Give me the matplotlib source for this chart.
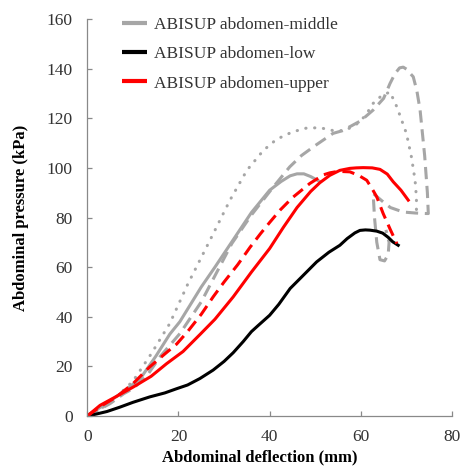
import matplotlib
matplotlib.use("Agg")
import matplotlib.pyplot as plt
from matplotlib.lines import Line2D

plt.rcParams["font.family"] = ["Liberation Serif", "DejaVu Serif"]

GRAY = "#a6a6a6"
RED = "#ff0000"
AXIS_GRAY = "#898989"

# ABISUP abdomen-middle, test 1 (solid)
mid1_x = [0, 2, 5, 8, 11.6, 15, 18.1, 20.3, 25, 28, 32, 36, 40, 42.5, 44.5, 46, 47.5, 49, 51]
mid1_y = [0, 2.5, 6, 10, 15, 24, 33, 38, 52, 60, 71, 82, 91, 94.5, 96.8, 97.6, 97.6, 96.5, 94.5]

# ABISUP abdomen-middle, test 2 (dashed)
mid2_x = [0, 3, 5, 8, 10, 13, 16, 20.3, 25, 31.7, 36, 40.8, 44.4, 47, 50, 53.9, 56,
          60, 62.7, 65, 66.4, 67.5, 68.5, 69.3, 70, 71.5, 72.3, 73, 74, 74.6, 74.8, 74.4,
          72, 69.3, 66.5, 64.9, 62.7, 63.0, 63.5, 64.2, 65.2, 66.0, 66.2, 65.5]
mid2_y = [0, 3, 5, 9, 11, 16, 24, 33.2, 46, 69.5, 81, 92.3, 100.4, 105, 109, 113.9, 115,
          119, 123.3, 128, 134, 138, 140.3, 140.6, 139.8, 136.7, 131, 123.3, 105, 90, 81.6,
          81.6, 81.8, 82.2, 84, 86.3, 89.7, 80, 70, 63, 62.5, 65, 70, 75]

# ABISUP abdomen-middle, test 3 (dotted)
mid3_x = [0, 3, 6, 10, 14, 18.1, 22, 26.9, 31.3, 35, 38.6, 41.5, 45, 48, 51, 54, 56.5,
          59, 61, 62.7, 64.5, 66.4, 67.9, 69, 70, 71.1, 71.9, 72.2, 72.2, 71.5, 70]
mid3_y = [0, 3, 7, 14, 25, 37.3, 53, 70.8, 87, 99, 107, 111.5, 114.5, 116, 116.2, 115, 115,
          117.5, 121, 126, 129, 130.6, 124.6, 119, 113.9, 104.4, 95, 88, 83, 82, 82]

# ABISUP abdomen-low
low_x = [0, 2, 4.3, 7.2, 10, 13.7, 17, 19.6, 22, 24.7, 27.6, 30, 32, 34.2, 36, 37.5, 40,
         42, 44.5, 47, 50.3, 53, 55.4, 57, 58.7, 59.8, 61, 62, 63.5, 64.8, 66, 67, 68.2]
low_y = [0, 0.8, 1.8, 3.6, 5.5, 7.7, 9.3, 11, 12.5, 15.1, 18.5, 22, 25.5, 30, 34, 36.5, 40.6,
         45, 51.4, 56, 62.1, 66, 68.8, 71.5, 73.8, 74.8, 75, 74.9, 74.5, 73.7, 72, 70.2, 68.8]

# ABISUP abdomen-upper, test 1 (solid)
up1_x = [0, 2.8, 6, 10.1, 14, 17.4, 21, 24.8, 28, 32, 36, 40, 43, 46, 49, 51, 53.2, 55.4,
         57.6, 59, 60.5, 62.5, 64.2, 65.8, 67.1, 68.8, 70.4]
up1_y = [0, 4.3, 7.5, 11.7, 16, 21.1, 26, 33, 39, 48, 58, 67.5, 76, 84, 90.5, 94, 97, 99,
         99.8, 100, 100.1, 100, 99.4, 97.5, 94.4, 91, 87]

# ABISUP abdomen-upper, test 2 (dashed)
up2_x = [0, 3, 6.4, 10, 13.7, 17, 19.6, 22, 25, 27.6, 30, 33, 35.7, 38, 40, 42.3, 45, 48.8,
         51.8, 53.2, 55, 57.6, 59.5, 61.3, 62.5, 63.5, 64.9, 66.5, 67.9]
up2_y = [0, 4, 7.7, 13, 19.8, 25, 29, 34, 41, 48, 54, 61, 68, 73.5, 78, 83, 88, 93.7,
         97.2, 98, 98.6, 98.4, 97, 95, 91.5, 88.3, 81.6, 75, 69.5]

labels = ["ABISUP abdomen-middle", "ABISUP abdomen-low", "ABISUP abdomen-upper"]

fig = plt.figure(figsize=(4.61, 4.71), dpi=100)
ax = fig.add_axes([87.3 / 461, 55 / 471, 364.7 / 461, 397 / 471])

lw = 2.2
dash = (4, 2.2)
dot = (0.1, 2.8)

ax.plot(mid1_x, mid1_y, color=GRAY, lw=lw)
ax.plot(mid2_x, mid2_y, color=GRAY, lw=lw, dashes=dash)
ax.plot(mid3_x, mid3_y, color=GRAY, lw=lw, dashes=dot, dash_capstyle="round")
ax.plot(low_x, low_y, color="black", lw=lw)
ax.plot(up2_x, up2_y, color=RED, lw=lw, dashes=dash)
ax.plot(up1_x, up1_y, color=RED, lw=lw)

ax.set_xlim(0, 80)
ax.set_ylim(0, 160)
ax.set_xticks([0, 20, 40, 60, 80])
ax.set_yticks(range(0, 161, 20))

for side in ("top", "right"):
    ax.spines[side].set_visible(False)
for side in ("left", "bottom"):
    ax.spines[side].set_color(AXIS_GRAY)
    ax.spines[side].set_linewidth(0.9)

ax.tick_params(axis="both", direction="in", length=3.5, width=0.9, color=AXIS_GRAY,
               labelsize=12.5, labelcolor="#333333")
ax.tick_params(axis="x", pad=9.5)
ax.tick_params(axis="y", pad=10.5)

ax.set_xlabel("Abdominal deflection (mm)", fontsize=12, fontweight="bold")
ax.set_ylabel("Abdominal pressure (kPa)", fontsize=12, fontweight="bold")
ax.xaxis.set_label_coords(0.4735, -0.085)
ax.yaxis.set_label_coords(-0.16, 0.5)

# legend only lists the three test groups, drawn as plain solid lines
handles = [Line2D([], [], color=c, lw=3, solid_capstyle="butt")
           for c in (GRAY, "black", RED)]
leg = ax.legend(
    handles, labels,
    loc="upper left",
    bbox_to_anchor=(122 / 461, 1 - 17 / 471),
    bbox_transform=fig.transFigure,
    frameon=False,
    fontsize=12.5,
    handlelength=1.45,
    handletextpad=0.4,
    labelspacing=0.75,
    borderpad=0,
    borderaxespad=0,
)
for t in leg.get_texts():
    t.set_color("#333333")

fig.savefig("out.png", dpi=100)
